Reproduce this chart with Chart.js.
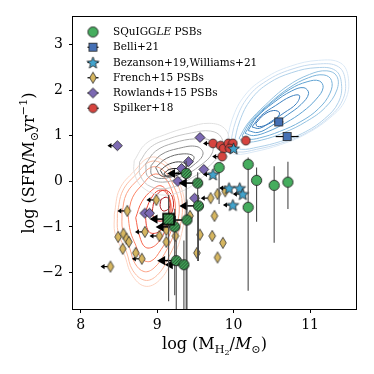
<!DOCTYPE html>
<html>
<head>
<meta charset="utf-8">
<script src="https://cdn.jsdelivr.net/npm/chart.js@4.4.1/dist/chart.umd.min.js"></script>
<style>
  html, body { margin: 0; padding: 0; background: #fff; }
  canvas { display: block; }
</style>
</head>
<body>
<canvas id="chart" width="374" height="374"></canvas>
<script>
// --- axis ticks ---
const xTicks = [8, 9, 10, 11];
const yTicks = [-2, -1, 0, 1, 2, 3];

// --- SQuIGGLE PSBs: detections (log MH2, log SFR, SFR error range) ---
const sqX = [9.81, 10.19, 10.19, 10.30, 10.53, 10.71];
const sqY = [0.30, 0.37, -0.57, 0.02, -0.09, -0.02];
const sqYLo = [-0.50, -2.40, -0.57, -0.89, -1.35, -0.61];
const sqYHi = [0.30, 0.52, -0.57, 0.30, 0.33, 0.43];

// --- SQuIGGLE PSBs: MH2 upper limits (hatched) ---
const sqLimX = [9.38, 9.53, 9.54, 9.39, 9.23, 9.25, 9.35];
const sqLimY = [0.17, -0.04, -0.54, -0.85, -1.00, -1.74, -1.83];
const sqLimYLo = [-2.80, -1.75, -1.75, -2.80, -2.50, -2.80, -2.80];
const sqLimYHi = [0.45, 0.20, -0.30, -0.40, -0.60, -1.30, -1.30];
const sqSqX = [9.15];
const sqSqY = [-0.83];
const sqSqYLo = [-2.63];
const sqSqYHi = [-0.30];

// --- Belli+21 ---
const belliX = [10.59, 10.70];
const belliY = [1.30, 0.98];
const belliXErr = [0.06, 0.15];

// --- Bezanson+19, Williams+21 (1 = upper limit in MH2) ---
const bezX = [10.00, 9.73, 9.94, 10.08, 10.12, 9.99];
const bezY = [0.72, 0.15, -0.15, -0.15, -0.28, -0.52];
const bezLim = [0, 1, 1, 0, 1, 1];

// --- French+15 PSBs ---
const frX = [8.39, 8.61, 8.49, 8.56, 8.60, 8.63, 8.55, 8.72, 8.80, 8.84, 8.99, 9.03, 9.12,
             9.12, 9.24, 9.56, 9.72, 9.86, 9.52, 9.79, 9.75, 9.70, 9.79, 9.89, 9.43];
const frY = [-1.87, -0.65, -1.22, -1.15, -1.26, -1.33, -1.48, -1.57, -1.70, -1.11, -0.41, -1.20, -1.07,
             -1.33, -1.20, -1.17, -1.20, -1.35, -1.57, -1.67, -0.76, -0.37, -0.28, -0.22, -0.76];
const frLim = [1, 1, 0, 0, 0, 0, 0, 0, 1, 1, 1, 1, 0, 0, 0, 0, 0, 0, 0, 0, 0, 1, 0, 0, 0];

// --- Rowlands+15 PSBs ---
const rwX = [8.48, 9.56, 9.41, 9.32, 9.61, 9.27, 9.49, 8.84, 8.90];
const rwY = [0.78, 0.96, 0.43, 0.28, 0.26, 0.00, -0.37, -0.70, -0.70];
const rwLim = [1, 0, 0, 0, 0, 0, 0, 0, 0];

// --- Spilker+18 ---
const spX = [9.73, 9.83, 9.87, 9.93, 9.99, 9.95, 10.16, 9.85];
const spY = [0.83, 0.78, 0.72, 0.83, 0.83, 0.72, 0.89, 0.54];
const spLim = [1, 0, 0, 0, 0, 0, 0, 1];

// --- density contours, outer to inner level, [log MH2, log SFR] ---
const blueLevels = [
  [[9.90,0.70],[9.98,1.35],[10.15,1.89],[10.41,2.26],[10.74,2.52],[11.11,2.65],[11.40,2.59],[11.50,2.26],[11.46,1.78],[11.26,1.39],[10.93,1.02],[10.61,0.80],[10.28,0.65],[10.02,0.59],[9.90,0.70]],
  [[9.95,0.74],[10.03,1.33],[10.19,1.85],[10.43,2.20],[10.75,2.45],[11.10,2.57],[11.37,2.51],[11.46,2.20],[11.42,1.76],[11.23,1.38],[10.92,1.03],[10.61,0.83],[10.30,0.70],[10.06,0.64],[9.95,0.74]],
  [[10.00,0.79],[10.08,1.32],[10.23,1.80],[10.46,2.15],[10.76,2.38],[11.09,2.49],[11.33,2.43],[11.41,2.14],[11.37,1.73],[11.19,1.37],[10.90,1.05],[10.61,0.87],[10.32,0.75],[10.10,0.70],[10.00,0.79]],
  [[10.07,0.94],[10.19,1.28],[10.42,1.68],[10.70,2.08],[10.99,2.34],[11.22,2.42],[11.35,2.30],[11.35,2.00],[11.20,1.62],[10.95,1.31],[10.65,1.06],[10.36,0.90],[10.16,0.86],[10.07,0.94]],
  [[10.11,0.99],[10.22,1.31],[10.45,1.68],[10.72,2.04],[10.98,2.27],[11.18,2.33],[11.28,2.21],[11.26,1.93],[11.11,1.59],[10.88,1.31],[10.60,1.09],[10.34,0.95],[10.19,0.92],[10.11,0.99]],
  [[10.15,1.05],[10.26,1.35],[10.48,1.70],[10.74,2.02],[10.96,2.18],[11.12,2.20],[11.17,2.05],[11.08,1.80],[10.90,1.52],[10.68,1.28],[10.45,1.09],[10.26,1.00],[10.15,1.05]],
  [[10.19,1.11],[10.30,1.40],[10.52,1.72],[10.76,1.98],[10.92,2.05],[10.98,1.92],[10.88,1.68],[10.70,1.45],[10.50,1.22],[10.32,1.07],[10.19,1.11]],
  [[10.24,1.19],[10.36,1.44],[10.55,1.66],[10.75,1.86],[10.86,1.88],[10.82,1.70],[10.66,1.50],[10.50,1.32],[10.34,1.16],[10.24,1.19]],
  [[10.29,1.27],[10.39,1.45],[10.52,1.55],[10.60,1.50],[10.55,1.36],[10.42,1.23],[10.31,1.20],[10.29,1.27]]
];
const grayLevels = [
  [[8.70,0.45],[8.85,0.82],[9.10,1.02],[9.40,1.18],[9.68,1.27],[9.88,1.16],[9.94,0.85],[9.84,0.45],[9.60,0.10],[9.35,-0.20],[9.05,-0.30],[8.80,-0.12],[8.70,0.20],[8.70,0.45]],
  [[8.77,0.42],[8.91,0.74],[9.15,0.93],[9.45,1.06],[9.70,1.10],[9.84,0.96],[9.84,0.68],[9.70,0.36],[9.46,0.08],[9.18,-0.14],[8.92,-0.12],[8.78,0.12],[8.77,0.42]],
  [[8.85,0.38],[8.98,0.66],[9.22,0.84],[9.50,0.93],[9.70,0.88],[9.72,0.62],[9.56,0.34],[9.32,0.10],[9.07,-0.02],[8.88,0.10],[8.85,0.38]],
  [[8.92,0.34],[9.05,0.58],[9.28,0.72],[9.52,0.76],[9.60,0.60],[9.48,0.36],[9.28,0.16],[9.06,0.06],[8.93,0.14],[8.92,0.34]],
  [[8.98,0.30],[9.12,0.50],[9.34,0.60],[9.48,0.54],[9.42,0.36],[9.24,0.18],[9.06,0.11],[8.98,0.30]],
  [[9.04,0.24],[9.16,0.38],[9.32,0.42],[9.38,0.32],[9.25,0.17],[9.10,0.12],[9.04,0.24]],
  [[9.09,0.17],[9.16,0.26],[9.28,0.27],[9.32,0.20],[9.24,0.12],[9.13,0.10],[9.09,0.17]]
];
const redLevels = [
  [[8.44,-0.72],[8.51,-0.17],[8.70,0.22],[8.90,0.52],[9.10,0.43],[9.27,0.04],[9.36,-0.50],[9.32,-1.15],[9.19,-1.74],[9.03,-2.17],[8.84,-2.30],[8.67,-2.05],[8.57,-1.60],[8.45,-1.15],[8.44,-0.72]],
  [[8.48,-0.71],[8.55,-0.21],[8.73,0.16],[8.91,0.43],[9.09,0.36],[9.25,0.00],[9.33,-0.52],[9.28,-1.12],[9.15,-1.67],[9.00,-2.06],[8.84,-2.17],[8.68,-1.95],[8.60,-1.55],[8.49,-1.12],[8.48,-0.71]],
  [[8.54,-0.70],[8.60,-0.27],[8.77,0.07],[8.93,0.31],[9.08,0.24],[9.21,-0.08],[9.29,-0.56],[9.23,-1.10],[9.10,-1.58],[8.96,-1.90],[8.83,-1.98],[8.71,-1.80],[8.64,-1.46],[8.55,-1.08],[8.54,-0.70]],
  [[8.62,-0.75],[8.68,-0.35],[8.82,-0.05],[8.95,0.15],[9.08,0.10],[9.18,-0.15],[9.24,-0.60],[9.18,-1.10],[9.05,-1.50],[8.92,-1.75],[8.80,-1.70],[8.72,-1.40],[8.65,-1.10],[8.62,-0.75]],
  [[8.72,-0.80],[8.80,-0.45],[8.93,-0.20],[9.05,-0.10],[9.15,-0.30],[9.18,-0.70],[9.10,-1.10],[8.98,-1.40],[8.85,-1.45],[8.77,-1.20],[8.72,-0.80]],
  [[8.84,-0.70],[8.92,-0.38],[9.02,-0.20],[9.12,-0.25],[9.17,-0.55],[9.12,-0.90],[9.01,-1.12],[8.89,-1.10],[8.84,-0.70]],
  [[8.95,-0.50],[9.02,-0.25],[9.12,-0.20],[9.20,-0.35],[9.20,-0.65],[9.10,-0.85],[8.98,-0.85],[8.94,-0.70],[8.95,-0.50]],
  [[9.05,-0.40],[9.12,-0.35],[9.17,-0.45],[9.15,-0.60],[9.08,-0.65],[9.04,-0.55],[9.05,-0.40]]
];

const legendLabels = ['SQuIGGLE PSBs', 'Belli+21', 'Bezanson+19,Williams+21', 'French+15 PSBs', 'Rowlands+15 PSBs', 'Spilker+18'];

// --- colours ---
const cGreen = '#45ad5e', cBlue = '#4570b5', cCyan = '#42a3cc', cTan = '#d6b660', cPurple = '#7c69b2', cRed = '#d6443f';
const blueColors = ['#dbe9f6', '#c6dbef', '#afd0e9', '#94c2e1', '#79b3da', '#5fa2d2', '#4b90c8', '#3e80bf', '#3171b4'];
const grayColors = ['#e0e0e0', '#c8c8c8', '#ababab', '#8c8c8c', '#6a6a6a', '#444', '#1e1e1e'];
const redColors = ['#fdd3c1', '#fcbba1', '#fca083', '#fb8465', '#f7634a', '#ea3f2f', '#cc2520', '#a50f15'];
const FONT = "'DejaVu Serif', 'Liberation Serif', serif";

// --- marker sprites ---
function sprite(w, h, draw) {
  const c = document.createElement('canvas');
  c.width = w; c.height = h;
  const g = c.getContext('2d');
  g.translate(w / 2, h / 2);
  draw(g);
  return c;
}
function hatch(g, s) {
  g.strokeStyle = '#1b2a1b';
  g.lineWidth = 0.9;
  g.beginPath();
  for (let k = -2 * s; k <= 2 * s; k += 3.2) {
    g.moveTo(k - s, s);
    g.lineTo(k + s, -s);
  }
  g.stroke();
}
const mkGreen = sprite(13, 13, g => {
  g.beginPath(); g.arc(0, 0, 5.1, 0, Math.PI * 2);
  g.fillStyle = cGreen; g.fill();
  g.lineWidth = 0.9; g.strokeStyle = '#1e1e1e'; g.stroke();
});
const mkGreenHatch = sprite(13, 13, g => {
  g.beginPath(); g.arc(0, 0, 5.1, 0, Math.PI * 2);
  g.fillStyle = cGreen; g.fill();
  g.save(); g.clip(); hatch(g, 7); g.restore();
  g.beginPath(); g.arc(0, 0, 5.1, 0, Math.PI * 2);
  g.lineWidth = 0.9; g.strokeStyle = '#1e1e1e'; g.stroke();
});
const mkGreenSquare = sprite(15, 15, g => {
  g.fillStyle = cGreen; g.fillRect(-5.5, -5.5, 11, 11);
  g.save(); g.beginPath(); g.rect(-5.5, -5.5, 11, 11); g.clip(); hatch(g, 8); g.restore();
  g.lineWidth = 1.6; g.strokeStyle = '#000'; g.strokeRect(-5.5, -5.5, 11, 11);
});
const mkBelli = sprite(11, 11, g => {
  g.fillStyle = cBlue; g.fillRect(-4, -4, 8, 8);
  g.lineWidth = 0.8; g.strokeStyle = '#1e1e1e'; g.strokeRect(-4, -4, 8, 8);
});
const mkStar = sprite(15, 15, g => {
  g.beginPath();
  for (let i = 0; i < 10; i++) {
    const r = i % 2 ? 2.7 : 6.2;
    const a = -Math.PI / 2 + i * Math.PI / 5;
    g.lineTo(r * Math.cos(a), r * Math.sin(a) + 0.6);
  }
  g.closePath();
  g.fillStyle = cCyan; g.fill();
  g.lineWidth = 0.8; g.strokeStyle = '#1e1e1e'; g.stroke();
});
const mkFrench = sprite(10, 14, g => {
  g.beginPath();
  g.moveTo(0, -5.6); g.lineTo(3.3, 0); g.lineTo(0, 5.6); g.lineTo(-3.3, 0); g.closePath();
  g.fillStyle = cTan; g.fill();
  g.lineWidth = 0.8; g.strokeStyle = '#2a2a2a'; g.stroke();
});
const mkRowlands = sprite(13, 13, g => {
  g.beginPath();
  g.moveTo(0, -5); g.lineTo(5, 0); g.lineTo(0, 5); g.lineTo(-5, 0); g.closePath();
  g.fillStyle = cPurple; g.fill();
  g.lineWidth = 0.8; g.strokeStyle = '#1e1e1e'; g.stroke();
});
const mkSpilker = sprite(11, 11, g => {
  g.beginPath(); g.arc(0, 0, 4.4, 0, Math.PI * 2);
  g.fillStyle = cRed; g.fill();
  g.lineWidth = 0.8; g.strokeStyle = '#1e1e1e'; g.stroke();
});

// --- build datasets ---
const pts = (xs, ys) => xs.map((x, i) => ({ x: x, y: ys[i] }));
const contourSets = [];
[[grayLevels, grayColors], [redLevels, redColors], [blueLevels, blueColors]].forEach(([levels, cols]) => {
  levels.forEach((lvl, i) => {
    contourSets.push({
      data: lvl.map(p => ({ x: p[0], y: p[1] })),
      showLine: true, borderColor: cols[i], borderWidth: 1, tension: 0.4,
      pointRadius: 0, fill: false, order: 100
    });
  });
});

const small = 0.13;
const bigArrow = 0.25;
function marker(xs, ys, style, order, errs) {
  return { data: pts(xs, ys), pointStyle: style, pointRadius: 5, showLine: false, order: order, errs: errs };
}

const datasets = contourSets.concat([
  marker(frX, frY, mkFrench, 7, frX.map((x, i) => ({ x: x, y: frY[i], lim: frLim[i] ? small : 0 }))),
  marker(rwX, rwY, mkRowlands, 6, rwX.map((x, i) => ({ x: x, y: rwY[i], lim: rwLim[i] ? small : 0 }))),
  marker(spX, spY, mkSpilker, 5, spX.map((x, i) => ({ x: x, y: spY[i], lim: spLim[i] ? small : 0 }))),
  marker(bezX, bezY, mkStar, 4, bezX.map((x, i) => ({ x: x, y: bezY[i], lim: bezLim[i] ? small : 0 }))),
  marker(belliX, belliY, mkBelli, 3, belliX.map((x, i) => ({ x: x, y: belliY[i], xerr: belliXErr[i] }))),
  marker(sqSqX, sqSqY, mkGreenSquare, 2, sqSqX.map((x, i) => ({ x: x, y: sqSqY[i], ylo: sqSqYLo[i], yhi: sqSqYHi[i], lim: bigArrow, big: true }))),
  marker(sqLimX, sqLimY, mkGreenHatch, 2, sqLimX.map((x, i) => ({ x: x, y: sqLimY[i], ylo: sqLimYLo[i], yhi: sqLimYHi[i], lim: bigArrow, big: true }))),
  marker(sqX, sqY, mkGreen, 1, sqX.map((x, i) => ({ x: x, y: sqY[i], ylo: sqYLo[i], yhi: sqYHi[i] })))
]);

// --- error bars and limit arrows, drawn right before their markers ---
const errorBars = {
  id: 'errorBars',
  beforeDatasetDraw(chart, args) {
    const ds = chart.data.datasets[args.index];
    if (!ds.errs) return;
    const { ctx, chartArea: a } = chart;
    const sx = chart.scales.x, sy = chart.scales.y;
    ctx.save();
    ctx.beginPath(); ctx.rect(a.left, a.top, a.right - a.left, a.bottom - a.top); ctx.clip();
    ds.errs.forEach(e => {
      const px = sx.getPixelForValue(e.x), py = sy.getPixelForValue(e.y);
      if (e.ylo !== undefined && e.ylo !== e.yhi) {
        ctx.strokeStyle = '#4a4a4a'; ctx.lineWidth = 1.1;
        ctx.beginPath();
        ctx.moveTo(px, sy.getPixelForValue(e.ylo));
        ctx.lineTo(px, sy.getPixelForValue(e.yhi));
        ctx.stroke();
      }
      if (e.xerr) {
        ctx.strokeStyle = '#000'; ctx.lineWidth = 1.2;
        ctx.beginPath();
        ctx.moveTo(sx.getPixelForValue(e.x - e.xerr), py);
        ctx.lineTo(sx.getPixelForValue(e.x + e.xerr), py);
        ctx.stroke();
      }
      if (e.lim) {
        const tx = sx.getPixelForValue(e.x - e.lim);
        const hl = e.big ? 8 : 4, hw = e.big ? 4.6 : 2.6;
        ctx.strokeStyle = '#000'; ctx.fillStyle = '#000';
        ctx.lineWidth = e.big ? 1.5 : 1.2;
        ctx.beginPath(); ctx.moveTo(px, py); ctx.lineTo(tx + hl - 1, py); ctx.stroke();
        ctx.beginPath();
        ctx.moveTo(tx, py); ctx.lineTo(tx + hl, py - hw); ctx.lineTo(tx + hl, py + hw); ctx.closePath();
        ctx.fill();
      }
    });
    ctx.restore();
  }
};

// --- text with sub/superscripts ---
function richWidth(ctx, parts, size) {
  let w = 0;
  parts.forEach(p => {
    ctx.font = (p.it ? 'italic ' : '') + (size * (p.s || 1)) + 'px ' + FONT;
    w += ctx.measureText(p.t).width;
  });
  return w;
}
function drawRich(ctx, parts, size, x, y) {
  let cx = x;
  parts.forEach(p => {
    ctx.font = (p.it ? 'italic ' : '') + (size * (p.s || 1)) + 'px ' + FONT;
    ctx.fillText(p.t, cx, y + (p.dy || 0) * size);
    cx += ctx.measureText(p.t).width;
  });
}
const xTitle = [{ t: 'log (M' }, { t: 'H', s: 0.7, dy: 0.22 }, { t: '2', s: 0.5, dy: 0.36 }, { t: '/' },
                { t: 'M', it: true }, { t: '\u2299', s: 0.7, dy: 0.22 }, { t: ')' }];
const yTitle = [{ t: 'log (SFR/M' }, { t: '\u2299', s: 0.7, dy: 0.22 }, { t: 'yr' },
                { t: '\u22121', s: 0.7, dy: -0.42 }, { t: ')' }];
const legendRich = [[{ t: 'SQuIGG' }, { t: 'LE', it: true }, { t: ' PSBs' }]]
  .concat(legendLabels.slice(1).map(l => [{ t: l }]));
const legendMarks = [mkGreen, mkBelli, mkStar, mkFrench, mkRowlands, mkSpilker];

const decorations = {
  id: 'decorations',
  afterDraw(chart) {
    const { ctx, chartArea: a } = chart;
    ctx.save();
    // frame
    ctx.strokeStyle = '#000'; ctx.lineWidth = 1;
    ctx.strokeRect(Math.round(a.left) - 0.5, Math.round(a.top) - 0.5,
                   Math.round(a.right - a.left) + 1, Math.round(a.bottom - a.top) + 1);
    ctx.fillStyle = '#000';
    ctx.textBaseline = 'alphabetic';
    // x title
    const xs = 16;
    const xw = richWidth(ctx, xTitle, xs);
    drawRich(ctx, xTitle, xs, (a.left + a.right) / 2 - xw / 2, 349);
    // y title
    const yw = richWidth(ctx, yTitle, xs);
    ctx.save();
    ctx.translate(34, (a.top + a.bottom) / 2);
    ctx.rotate(-Math.PI / 2);
    drawRich(ctx, yTitle, xs, -yw / 2, 0);
    ctx.restore();
    // legend
    const lx = a.left + 20, tx = a.left + 40;
    legendMarks.forEach((m, i) => {
      const ly = a.top + 15 + i * 15.25;
      if (i > 0) {
        ctx.strokeStyle = '#000'; ctx.lineWidth = 1.2;
        ctx.beginPath(); ctx.moveTo(lx - 5.5, ly); ctx.lineTo(lx + 5.5, ly); ctx.stroke();
      }
      ctx.drawImage(m, lx - m.width / 2, ly - m.height / 2);
      ctx.textBaseline = 'middle';
      drawRich(ctx, legendRich[i], 10.5, tx, ly + 0.5);
    });
    ctx.restore();
  }
};

const tickFmt = v => (v < 0 ? '\u2212' + Math.abs(v) : String(v));

new Chart(document.getElementById('chart'), {
  type: 'scatter',
  data: { datasets: datasets },
  options: {
    responsive: false,
    devicePixelRatio: 1,
    animation: false,
    events: [],
    layout: { padding: { top: 17, right: 18, left: 0, bottom: 0 } },
    plugins: { legend: { display: false }, tooltip: { enabled: false } },
    scales: {
      x: {
        type: 'linear', min: 7.9, max: 11.6,
        afterBuildTicks: s => { s.ticks = xTicks.map(v => ({ value: v })); },
        afterFit: s => { s.height = 65; },
        ticks: { color: '#000', font: { family: FONT, size: 14 }, padding: 4, callback: tickFmt, maxRotation: 0 },
        grid: { drawOnChartArea: false, drawTicks: true, tickLength: 4, color: '#000', lineWidth: 1 },
        border: { display: false }
      },
      y: {
        type: 'linear', min: -2.8, max: 3.6,
        afterBuildTicks: s => { s.ticks = yTicks.map(v => ({ value: v })); },
        afterFit: s => { s.width = 73; },
        ticks: { color: '#000', font: { family: FONT, size: 14 }, padding: 6, callback: tickFmt },
        grid: { drawOnChartArea: false, drawTicks: true, tickLength: 4, color: '#000', lineWidth: 1 },
        border: { display: false }
      }
    }
  },
  plugins: [errorBars, decorations]
});
</script>
</body>
</html>
